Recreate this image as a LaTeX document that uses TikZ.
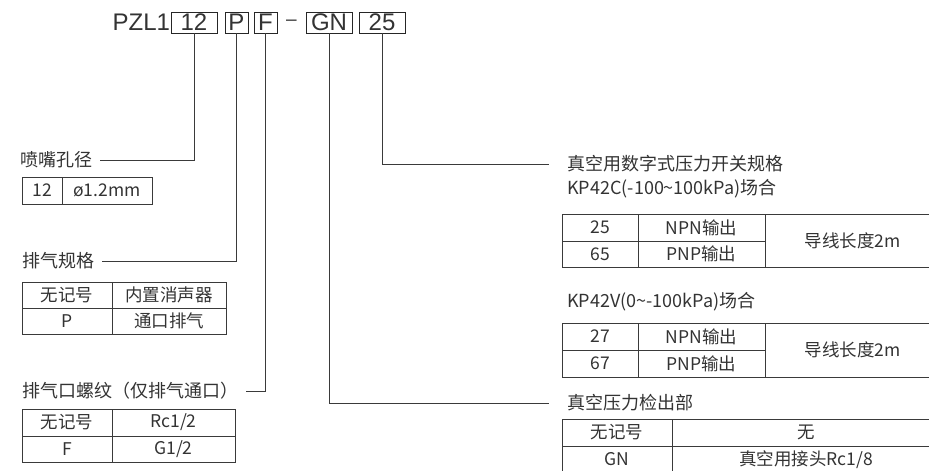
\documentclass[tikz,border=0pt]{standalone}
\usepackage{fontspec}
\setmainfont{Noto Sans CJK SC}
\newfontfamily\arialf{Liberation Sans}
\definecolor{txt}{HTML}{333333}
\definecolor{ln}{HTML}{3A3A3A}

\begin{document}
\begin{tikzpicture}[x=1pt,y=-1pt]
\tikzset{every node/.style={text=txt},box/.style={draw=black!85,line width=0.9pt,inner sep=0pt,minimum height=21pt,font=\arialf\fontsize{24}{24}\selectfont},cell/.style={draw=ln,line width=0.8pt,inner sep=0pt,font=\fontsize{17.5}{18}\selectfont},lab/.style={inner xsep=8pt,inner ysep=0pt,anchor=west,font=\fontsize{18}{20}\selectfont},rlab/.style={lab,inner xsep=18pt},lead/.style={draw=ln,line width=0.8pt}}
\useasboundingbox (0,0) rectangle (929,471);
\clip (0,0) rectangle (929,471);
% model code
\node[box,draw=none,anchor=east] (pzl) at (170.5,22.5) {PZL1};
\node[box,minimum width=46pt] (b12) at (194,22.5) {12};
\node[box,minimum width=23pt] (bP) at (236.5,22.5) {P};
\node[box,minimum width=23pt] (bF) at (265.5,22.5) {F};
\node[box,draw=none,font=\arialf\fontsize{19}{19}\selectfont] (dash) at (291.5,22.5) {–};
\node[box,minimum width=46pt] (bGN) at (329,22.5) {GN};
\node[box,minimum width=46pt] (b25) at (382,22.5) {25};
% left labels
\node[lab] (nozzle) at (12,160) {喷嘴孔径};
\node[cell,minimum width=40pt,minimum height=27pt] (n1) at (42,190.5) {12};
\node[cell,minimum width=90pt,minimum height=27pt] (n2) at (107,190.5) {ø1.2mm};
\node[lab] (exh) at (14,261) {排气规格};
\node[cell,minimum width=90pt,minimum height=26pt] (e1) at (67,295) {无记号};
\node[cell,minimum width=114pt,minimum height=26pt] (e2) at (169,295) {内置消声器};
\node[cell,minimum width=90pt,minimum height=26pt] (e3) at (67,321) {P};
\node[cell,minimum width=114pt,minimum height=26pt] (e4) at (169,321) {通口排气};
\node[lab] (port) at (14,391) {排气口螺纹（仅排气通口）};
\node[cell,minimum width=90pt,minimum height=27pt] (p1) at (67,422.5) {无记号};
\node[cell,minimum width=123pt,minimum height=27pt] (p2) at (173.5,422.5) {Rc1/2};
\node[cell,minimum width=90pt,minimum height=26pt] (p3) at (67,449) {F};
\node[cell,minimum width=123pt,minimum height=26pt] (p4) at (173.5,449) {G1/2};
% right labels
\node[rlab] (sw) at (549,164) {真空用数字式压力开关规格};
\node[lab,inner xsep=0pt] (kpc) at (567,189) {KP42C(-100\textasciitilde100kPa)场合};
\node[cell,minimum width=76pt,minimum height=27pt] (c1) at (600,227.5) {25};
\node[cell,minimum width=127pt,minimum height=27pt] (c2) at (701.5,227.5) {NPN输出};
\node[cell,minimum width=76pt,minimum height=26pt] (c3) at (600,254) {65};
\node[cell,minimum width=127pt,minimum height=26pt] (c4) at (701.5,254) {PNP输出};
\node[cell,minimum width=175pt,minimum height=53pt] (c5) at (852.5,240.5) {导线长度2m};
\node[lab,inner xsep=0pt] (kpv) at (567,302) {KP42V(0\textasciitilde-100kPa)场合};
\node[cell,minimum width=76pt,minimum height=27pt] (v1) at (600,336.5) {27};
\node[cell,minimum width=127pt,minimum height=27pt] (v2) at (701.5,336.5) {NPN输出};
\node[cell,minimum width=76pt,minimum height=27pt] (v3) at (600,363.5) {67};
\node[cell,minimum width=127pt,minimum height=27pt] (v4) at (701.5,363.5) {PNP输出};
\node[cell,minimum width=175pt,minimum height=54pt] (v5) at (852.5,350) {导线长度2m};
\node[rlab] (det) at (549,403) {真空压力检出部};
\node[cell,minimum width=110pt,minimum height=27pt] (g1) at (617,432.5) {无记号};
\node[cell,minimum width=268pt,minimum height=27pt] (g2) at (806,432.5) {无};
\node[cell,minimum width=110pt,minimum height=27pt] (g3) at (617,459.5) {GN};
\node[cell,minimum width=268pt,minimum height=27pt] (g4) at (806,459.5) {真空用接头Rc1/8};
% leaders
\draw[lead] (b12.south) |- (nozzle.east);
\draw[lead] (bP.south) |- (exh.east);
\draw[lead] (bF.south) |- (port.east);
\draw[lead] (bGN.south) |- (det.west);
\draw[lead] (b25.south) |- (sw.west);
\end{tikzpicture}
\end{document}
